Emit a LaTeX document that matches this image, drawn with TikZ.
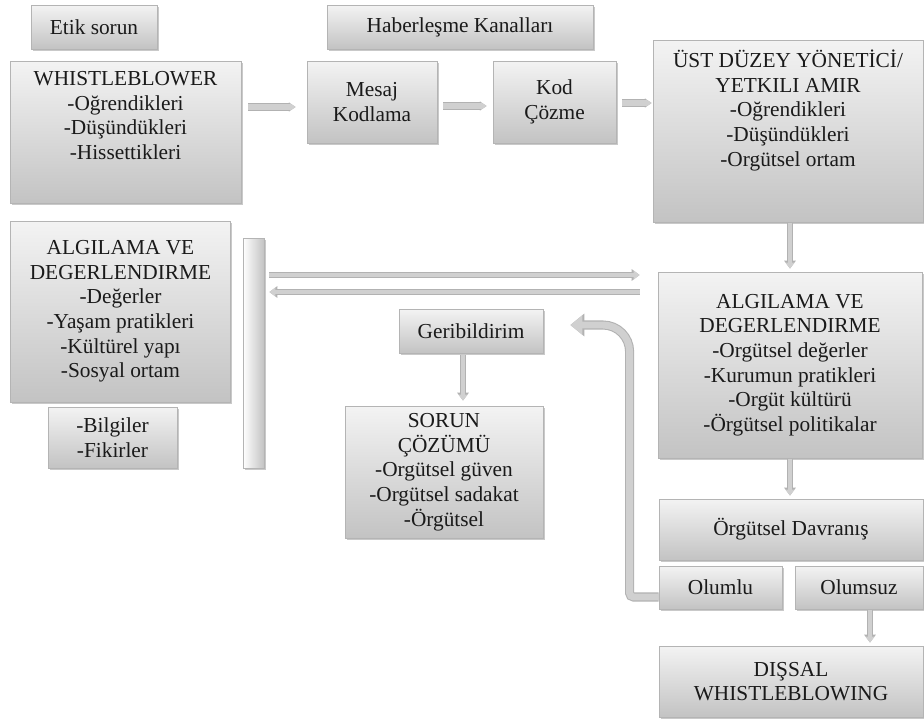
\documentclass[tikz,border=0pt]{standalone}
\usepackage{fontspec}
\setmainfont{Liberation Serif}
\usetikzlibrary{shadows,arrows.meta,calc}
\definecolor{txtc}{HTML}{1A1A1A}
\definecolor{boxtop}{HTML}{F3F3F3}
\definecolor{boxbot}{HTML}{C3C3C3}
\definecolor{boxline}{HTML}{B4B4B4}
\definecolor{arrin}{HTML}{D0D0D0}
\definecolor{arrout}{HTML}{B2B2B2}
\tikzset{
  sz/.style 2 args={minimum width=#1*0.75pt, minimum height=#2*0.75pt},
  box/.style={draw=boxline, line width=0.6pt, top color=boxtop, bottom color=boxbot,
    drop shadow={shadow xshift=1.2pt, shadow yshift=-1.5pt, opacity=0.35, fill=black!60},
    inner sep=2pt, align=center, font=\fontsize{16}{18.5}\selectfont, text=txtc},
  txt/.style={inner sep=2pt, align=center, font=\fontsize{16}{18.5}\selectfont, text=txtc},
  conn/.style={draw=arrin, line width=2.6pt, -{Triangle[length=4.5pt,width=6.5pt]},
    preaction={draw=arrout, line width=4.2pt, -{Triangle[length=6pt,width=8.5pt]}}},
  wideconn/.style={draw=arrin, line width=4.2pt, -{Triangle[length=4pt,width=5pt]},
    preaction={draw=arrout, line width=5.6pt, -{Triangle[length=5pt,width=6.5pt]}}},
  bigconn/.style={draw=arrin, line width=5.2pt, -{Triangle[length=9pt,width=14pt]},
    preaction={draw=arrout, line width=6.8pt, -{Triangle[length=10.5pt,width=16.5pt]}}},
}
\begin{document}
\begin{tikzpicture}[x=0.75pt,y=-0.75pt]
\fill[white] (0,0) rectangle (924,722);
\useasboundingbox (0,0) rectangle (924,722);

\node[box, sz={126}{44}] (etik) at (94,27) {Etik sorun};
\node[box, sz={266}{44}] (haber) at (460,27) {Haberleşme Kanalları};
\node[box, sz={231}{142}] (wb) at (125.5,132) {};
\node[txt, anchor=north] (wbt) at ([yshift=-6pt]wb.north) {WHISTLEBLOWER\\-Oğrendikleri\\-Düşündükleri\\-Hissettikleri};
\node[box, sz={130}{82}] (mesaj) at (372,102) {Mesaj\\Kodlama};
\node[box, sz={123}{82}] (kod) at (554.5,102) {Kod\\Çözme};
\node[box, sz={270}{182}] (ust) at (788,131) {};
\node[txt, anchor=north] (ustt) at ([yshift=-5.5pt]ust.north) {ÜST DÜZEY YÖNETİCİ/\\YETKILI AMIR\\-Oğrendikleri\\-Düşündükleri\\-Orgütsel ortam};
\node[box, sz={220}{181}] (lalg) at (120.5,311.5) {ALGILAMA VE\\DEGERLENDIRME\\-Değerler\\-Yaşam pratikleri\\-Kültürel yapı\\-Sosyal ortam};
\node[box, sz={129}{61}] (bilgi) at (112.5,437.5) {-Bilgiler\\-Fikirler};
\node[box, sz={21}{230}, left color=white, right color=boxbot] (bar) at (253.5,353) {};
\node[box, sz={264}{186}] (ralg) at (790,365) {ALGILAMA VE\\DEGERLENDIRME\\-Orgütsel değerler\\-Kurumun pratikleri\\-Orgüt kültürü\\-Örgütsel politikalar};
\node[box, sz={144}{44}] (geri) at (471,331) {Geribildirim};
\node[box, sz={198}{132}] (sorun) at (444,472) {SORUN\\ÇÖZÜMÜ\\-Orgütsel güven\\-Orgütsel sadakat\\-Örgütsel};
\node[box, sz={264}{61}] (davr) at (791,529.5) {Örgütsel Davranış};
\node[box, sz={123}{43}] (olumlu) at (720.5,587.5) {Olumlu};
\node[box, sz={128}{43}] (olumsuz) at (859,587.5) {Olumsuz};
\node[box, sz={264}{71}] (dis) at (791,681.5) {DIŞSAL\\WHISTLEBLOWING};

% connectors
\draw[wideconn] ($(wb.east |- mesaj.west)+(7,5)$) -- ($(mesaj.west)+(-11,5)$);
\draw[wideconn] ($(mesaj.east)+(6,4)$) -- ($(kod.west)+(-6,4)$);
\draw[wideconn] ($(kod.east)+(6,1)$) -- ($(kod.east -| ust.west)+(-1,1)$);
\draw[conn] ($(ust.south)+(2,1)$) -- ($(ust.south |- ralg.north)+(2,-3)$);
\draw[conn] ($(ralg.south)+(0,1)$) -- ($(ralg.south |- davr.north)+(0,-3)$);
\draw[conn] ($(olumsuz.south)+(11,1)$) -- ($(olumsuz.south |- dis.north)+(11,-3)$);
\draw[conn] ($(geri.south)+(-8,2)$) -- ($(geri.south |- sorun.north)+(-8,-5)$);
\draw[conn] ($(bar.east)+(5,-78)$) -- ($(bar.east -| ralg.west)+(-18,-78)$);
\draw[conn] ($(bar.east -| ralg.west)+(-18,-61)$) -- ($(bar.east)+(5,-61)$);
\draw[bigconn, rounded corners=3pt] ($(olumlu.west)+(0,9.5)$) -- ($(olumlu.west)+(-29,9.5)$)
  [rounded corners=20pt] -- ($(olumlu.west)+(-29,-262.5)$) -- ($(geri.east)+(27,-6)$);
\end{tikzpicture}
\end{document}
